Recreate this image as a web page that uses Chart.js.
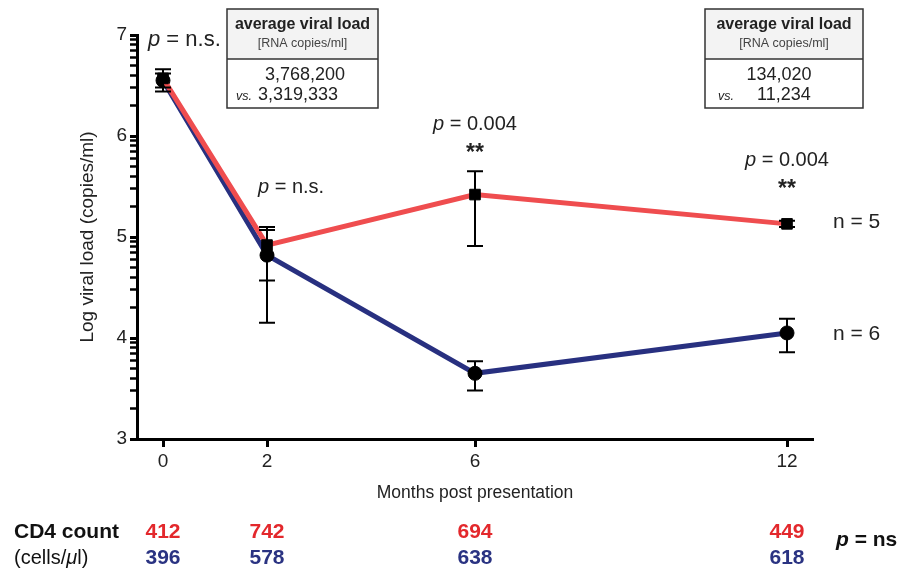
<!DOCTYPE html>
<html>
<head>
<meta charset="utf-8">
<script src="https://cdn.jsdelivr.net/npm/chart.js@4.4.0/dist/chart.umd.min.js"></script>
<style>
  body { margin: 0; background: #fff; }
  canvas { display: block; }
</style>
</head>
<body>
<canvas id="viralCanvas" width="903" height="574"></canvas>
<script>
// données
const months = [0, 2, 6, 12]
const redMean = [6.57, 4.92, 5.42, 5.13]
const redLow = [6.48, 4.57, 4.91, 5.10]
const redHigh = [6.66, 5.10, 5.65, 5.16]
const blueMean = [6.55, 4.82, 3.65, 4.05]
const blueLow = [6.44, 4.15, 3.48, 3.86]
const blueHigh = [6.62, 5.07, 3.77, 4.19]
const yTicks = [3, 4, 5, 6, 7]
const cd4Red = [412, 742, 694, 449]
const cd4Blue = [396, 578, 638, 618]

const RED = '#ef4d4f'
const BLUE = '#283080'
const RED_TXT = '#e3282c'
const BLUE_TXT = '#2a3382'
const FONT = '"Liberation Sans", Arial, sans-serif'

function toPoints(values) {
    return months.map((m, i) => ({ x: m, y: values[i] }))
}

// ticks mineurs logarithmiques entre chaque entier
function buildYTicks() {
    let ticks = []
    for (let d = yTicks[0]; d < yTicks[yTicks.length - 1]; d++) {
        ticks.push({ value: d, major: true })
        for (let k = 2; k <= 9; k++) {
            ticks.push({ value: d + Math.log10(k), major: false })
        }
    }
    ticks.push({ value: yTicks[yTicks.length - 1], major: true })
    return ticks
}

// barres d'erreur
const errorBars = {
    id: 'errorBars',
    afterDatasetsDraw(chart) {
        const ctx = chart.ctx
        const xs = chart.scales.x
        const ys = chart.scales.y
        ctx.save()
        ctx.strokeStyle = '#000'
        ctx.lineWidth = 2
        const draw = (lows, highs) => {
            months.forEach((m, i) => {
                const px = xs.getPixelForValue(m)
                const top = ys.getPixelForValue(highs[i])
                const bot = ys.getPixelForValue(lows[i])
                ctx.beginPath()
                ctx.moveTo(px, top); ctx.lineTo(px, bot)
                ctx.moveTo(px - 8, top); ctx.lineTo(px + 8, top)
                ctx.moveTo(px - 8, bot); ctx.lineTo(px + 8, bot)
                ctx.stroke()
            })
        }
        draw(blueLow, blueHigh)
        draw(redLow, redHigh)
        ctx.restore()
    }
}

function pText(ctx, x, y, rest, size, align) {
    // "p" en italique puis le reste
    ctx.font = 'italic ' + size + 'px ' + FONT
    const pw = ctx.measureText('p').width
    ctx.font = size + 'px ' + FONT
    const rw = ctx.measureText(rest).width
    let start = x
    if (align === 'center') start = x - (pw + rw) / 2
    ctx.textAlign = 'left'
    ctx.font = 'italic ' + size + 'px ' + FONT
    ctx.fillText('p', start, y)
    ctx.font = size + 'px ' + FONT
    ctx.fillText(rest, start + pw, y)
}

function drawBox(ctx, x, y, w, h, line1, line2, centerX, vsX, vsNumX) {
    ctx.save()
    ctx.fillStyle = '#f3f3f3'
    ctx.fillRect(x, y, w, 50)
    ctx.strokeStyle = '#333'
    ctx.lineWidth = 1.5
    ctx.strokeRect(x, y, w, h)
    ctx.beginPath()
    ctx.moveTo(x, y + 50); ctx.lineTo(x + w, y + 50)
    ctx.stroke()
    ctx.fillStyle = '#222'
    ctx.textAlign = 'center'
    ctx.textBaseline = 'middle'
    ctx.font = 'bold 16px ' + FONT
    ctx.fillText('average viral load', x + w / 2, y + 16)
    ctx.font = '12.5px ' + FONT
    ctx.fillStyle = '#444'
    ctx.fillText('[RNA copies/ml]', x + w / 2, y + 35)
    ctx.fillStyle = '#222'
    ctx.font = '18px ' + FONT
    ctx.fillText(line1, centerX, y + 66)
    ctx.textAlign = 'left'
    ctx.font = 'italic 12.5px ' + FONT
    ctx.fillText('vs.', vsX, y + 88)
    ctx.font = '18px ' + FONT
    ctx.fillText(line2, vsNumX, y + 86)
    ctx.restore()
}

const annotations = {
    id: 'annotations',
    afterDraw(chart) {
        const ctx = chart.ctx
        const xs = chart.scales.x
        ctx.save()
        ctx.textBaseline = 'middle'
        ctx.fillStyle = '#222'

        pText(ctx, 148, 40, ' = n.s.', 22, 'left')
        pText(ctx, 258, 187, ' = n.s.', 20, 'left')
        pText(ctx, xs.getPixelForValue(6), 124, ' = 0.004', 20, 'center')
        pText(ctx, xs.getPixelForValue(12), 160, ' = 0.004', 20, 'center')

        ctx.font = 'bold 23px ' + FONT
        ctx.textAlign = 'center'
        ctx.fillText('**', xs.getPixelForValue(6), 154)
        ctx.fillText('**', xs.getPixelForValue(12), 190)

        ctx.font = '21px ' + FONT
        ctx.textAlign = 'left'
        ctx.fillText('n = 5', 833, 222)
        ctx.fillText('n = 6', 833, 334)

        drawBox(ctx, 227, 9, 151, 99, '3,768,200', '3,319,333', 305, 236, 258)
        drawBox(ctx, 705, 9, 158, 99, '134,020', '11,234', 779, 718, 757)

        // tableau CD4
        ctx.fillStyle = '#111'
        ctx.font = 'bold 21px ' + FONT
        ctx.textAlign = 'left'
        ctx.fillText('CD4 count', 14, 532)
        ctx.font = '20px ' + FONT
        ctx.fillText('(cells/', 14, 558)
        let w = ctx.measureText('(cells/').width
        ctx.font = 'italic 20px ' + FONT
        ctx.fillText('\u03bc', 14 + w, 558)
        w += ctx.measureText('\u03bc').width
        ctx.font = '20px ' + FONT
        ctx.fillText('l)', 14 + w, 558)

        ctx.font = 'bold 21px ' + FONT
        ctx.textAlign = 'center'
        months.forEach((m, i) => {
            const px = xs.getPixelForValue(m)
            ctx.fillStyle = RED_TXT
            ctx.fillText(String(cd4Red[i]), px, 532)
            ctx.fillStyle = BLUE_TXT
            ctx.fillText(String(cd4Blue[i]), px, 558)
        })

        ctx.fillStyle = '#111'
        ctx.textAlign = 'left'
        ctx.font = 'bold italic 21px ' + FONT
        ctx.fillText('p', 836, 540)
        const pw = ctx.measureText('p').width
        ctx.font = 'bold 21px ' + FONT
        ctx.fillText(' = ns', 836 + pw, 540)
        ctx.restore()
    }
}

const viralCanvas = document.getElementById('viralCanvas')
const viralChart = new Chart(viralCanvas, {
    type: 'line',
    data: {
        datasets: [{
            label: 'n = 5',
            data: toPoints(redMean),
            borderColor: RED,
            borderWidth: 5,
            pointStyle: 'rect',
            pointRadius: 7.5,
            pointBackgroundColor: '#000',
            pointBorderColor: '#000',
            pointBorderWidth: 1,
            order: 0
        }, {
            label: 'n = 6',
            data: toPoints(blueMean),
            borderColor: BLUE,
            borderWidth: 5,
            pointStyle: 'circle',
            pointRadius: 7,
            pointBackgroundColor: '#000',
            pointBorderColor: '#000',
            pointBorderWidth: 1,
            order: 1
        }]
    },
    options: {
        responsive: false,
        animation: false,
        layout: { padding: { left: 0, top: 35, right: 90, bottom: 0 } },
        plugins: { legend: { display: false }, tooltip: { enabled: false } },
        scales: {
            x: {
                type: 'linear',
                min: -0.5,
                max: 12.5,
                afterBuildTicks: scale => { scale.ticks = months.map(v => ({ value: v })) },
                afterFit: scale => { scale.height = 135 },
                grid: { drawOnChartArea: false, drawTicks: true, tickLength: 8, tickWidth: 3, tickColor: '#000' },
                border: { display: true, width: 3, color: '#000' },
                ticks: { autoSkip: false, maxRotation: 0, padding: 3, color: '#222', font: { family: FONT, size: 19 } },
                title: {
                    display: true,
                    text: 'Months post presentation',
                    color: '#222',
                    font: { family: FONT, size: 17.5 },
                    padding: { top: 0, bottom: 70 }
                }
            },
            y: {
                min: 3,
                max: 7,
                afterBuildTicks: scale => { scale.ticks = buildYTicks() },
                afterFit: scale => { scale.width = 137 },
                grid: {
                    drawOnChartArea: false, drawTicks: true, tickLength: 7, tickColor: '#000',
                    tickWidth: c => (c.tick && c.tick.major ? 3 : 2.5)
                },
                border: { display: true, width: 3, color: '#000' },
                ticks: {
                    autoSkip: false,
                    padding: 3,
                    color: '#222',
                    font: { family: FONT, size: 19 },
                    callback: v => (Math.abs(v - Math.round(v)) < 1e-6 ? String(Math.round(v)) : '')
                },
                title: {
                    display: true,
                    text: 'Log viral load (copies/ml)',
                    color: '#222',
                    font: { family: FONT, size: 19 },
                    padding: { top: 76, bottom: 0 }
                }
            }
        }
    },
    plugins: [errorBars, annotations]
})
</script>
</body>
</html>
